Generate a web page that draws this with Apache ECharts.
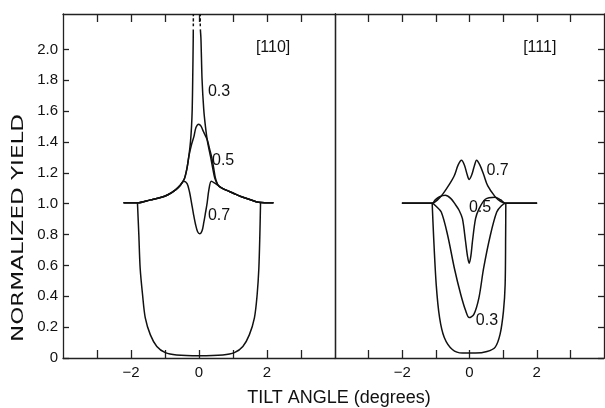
<!DOCTYPE html>
<html>
<head>
<meta charset="utf-8">
<title>Normalized yield vs tilt angle</title>
<script src="https://cdn.jsdelivr.net/npm/echarts@6/dist/echarts.min.js"></script>
<style>
  html, body { margin: 0; padding: 0; background: #fff; }
  #main { width: 605px; height: 408px; }
</style>
</head>
<body>
<div id="main"></div>
<script type="text/javascript">
// axis ticks / labels
var xTicks = [-3, -2, -1, 0, 1, 2, 3];
var xLabels = [-2, 0, 2];
var yTicks = [0, 0.2, 0.4, 0.6, 0.8, 1.0, 1.2, 1.4, 1.6, 1.8, 2.0];

// [110] panel: [tilt angle, yield]
var c110_03a = [[-2.22,1.006],[-1.81,1.006],[-1.43,1.025],[-1.13,1.04],[-0.90,1.06],[-0.69,1.09],[-0.55,1.12],
  [-0.43,1.162],[-0.35,1.234],[-0.30,1.305],[-0.25,1.403],[-0.22,1.50],[-0.20,1.61],[-0.185,1.805],[-0.17,2.065],[-0.168,2.13]];
var c110_03b = [[0.04,2.13],[0.058,2.065],[0.09,1.805],[0.14,1.61],[0.19,1.50],[0.25,1.403],[0.34,1.305],[0.40,1.234],
  [0.46,1.169],[0.52,1.135],[0.58,1.115],[0.65,1.105],[0.8,1.088],[1.01,1.068],[1.25,1.045],[1.51,1.026],[1.75,1.01],[2.19,1.006]];
var c110_03tipA = [[-0.167,2.15],[-0.166,2.23]];
var c110_03tipB = [[0.038,2.15],[0.036,2.23]];
var c110_05 = [[-2.22,1.006],[-1.81,1.006],[-1.43,1.025],[-1.13,1.04],[-0.90,1.06],[-0.69,1.09],[-0.55,1.12],
  [-0.43,1.162],[-0.35,1.234],[-0.30,1.305],[-0.22,1.383],[-0.15,1.435],[-0.09,1.494],[-0.01,1.516],[0.06,1.503],
  [0.13,1.468],[0.24,1.416],[0.31,1.357],[0.37,1.305],[0.43,1.234],[0.48,1.169],[0.53,1.135],[0.58,1.115],
  [0.65,1.105],[0.8,1.088],[1.01,1.068],[1.25,1.045],[1.51,1.026],[1.75,1.01],[2.19,1.006]];
var c110_07 = [[-2.22,1.006],[-1.81,1.006],[-1.43,1.025],[-1.13,1.04],[-0.90,1.06],[-0.69,1.09],[-0.55,1.12],
  [-0.45,1.145],[-0.35,1.13],[-0.28,1.078],[-0.22,1.006],[-0.16,0.93],[-0.10,0.864],[-0.04,0.818],[0.02,0.805],
  [0.09,0.825],[0.14,0.877],[0.19,0.94],[0.24,1.006],[0.29,1.09],[0.36,1.145],[0.45,1.135],[0.55,1.12],
  [0.65,1.105],[0.8,1.088],[1.01,1.068],[1.25,1.045],[1.51,1.026],[1.75,1.01],[2.19,1.006]];
var u110 = [[-1.81,1.006],[-1.77,0.80],[-1.73,0.58],[-1.66,0.41],[-1.58,0.26],[-1.43,0.15],[-1.24,0.075],[-0.99,0.035],
  [-0.66,0.02],[0.0,0.015],[0.70,0.02],[1.04,0.035],[1.29,0.075],[1.48,0.15],[1.63,0.26],[1.71,0.41],[1.76,0.58],
  [1.79,0.80],[1.81,1.006]];

// [111] panel
var c111_03 = [[-2.01,1.003],[-1.11,1.003],[-1.01,0.987],[-0.84,0.946],[-0.65,0.796],[-0.45,0.582],[-0.26,0.412],
  [-0.11,0.304],[-0.01,0.262],[0.13,0.283],[0.28,0.39],[0.42,0.582],[0.62,0.796],[0.81,0.946],[0.95,0.987],
  [1.08,1.003],[2.01,1.003]];
var c111_05 = [[-2.01,1.003],[-1.11,1.003],[-1.02,1.025],[-0.89,1.045],[-0.72,1.055],[-0.56,1.035],[-0.42,0.995],
  [-0.31,0.958],[-0.21,0.903],[-0.12,0.76],[-0.06,0.66],[-0.01,0.614],[0.04,0.66],[0.09,0.76],[0.18,0.903],
  [0.28,0.965],[0.47,1.029],[0.76,1.042],[0.92,1.026],[1.08,1.003],[2.01,1.003]];
var c111_07 = [[-2.01,1.003],[-1.11,1.003],[-0.95,1.025],[-0.79,1.064],[-0.60,1.125],[-0.45,1.183],[-0.34,1.25],
  [-0.24,1.282],[-0.15,1.25],[-0.07,1.189],[-0.01,1.157],[0.07,1.189],[0.15,1.25],[0.21,1.282],[0.31,1.25],
  [0.42,1.189],[0.54,1.117],[0.76,1.046],[0.92,1.015],[1.08,1.003],[2.01,1.003]];
var u111 = [[-1.11,1.003],[-1.07,0.80],[-0.99,0.476],[-0.89,0.262],[-0.75,0.133],[-0.51,0.055],[-0.21,0.032],
  [0.18,0.032],[0.52,0.042],[0.76,0.069],[0.91,0.155],[1.01,0.304],[1.06,0.476],[1.075,0.796],[1.08,1.003]];

// curve labels: [text, x, y]
var labels110 = [['[110]', 2.18, 2.01], ['0.3', 0.59, 1.73], ['0.5', 0.71, 1.277], ['0.7', 0.59, 0.92]];
var labels111 = [['[111]', 2.09, 2.01], ['0.7', 0.836, 1.218], ['0.5', 0.313, 0.972], ['0.3', 0.52, 0.24]];

var ink = '#111';
var frame = { color: '#222', width: 1.3 };
var fontTick = 'Liberation Sans';

function bottomX(i) {
  return {
    type: 'value', gridIndex: i, min: -4, max: 4, position: 'bottom',
    axisLine: { show: true, onZero: false, lineStyle: frame },
    axisTick: { show: true, inside: true, length: 8, customValues: xTicks, lineStyle: frame },
    axisLabel: {
      customValues: xLabels, margin: 7, fontSize: 15, color: ink, fontFamily: fontTick,
      formatter: function (v) { return v < 0 ? '\u2212' + Math.abs(v) : String(v); }
    },
    splitLine: { show: false }
  };
}
function topX(i) {
  return {
    type: 'value', gridIndex: i, min: -4, max: 4, position: 'top',
    axisLine: { show: true, onZero: false, lineStyle: frame },
    axisTick: { show: true, inside: true, length: 8, customValues: xTicks, lineStyle: frame },
    axisLabel: { show: false },
    splitLine: { show: false }
  };
}
function sideY(i, pos, ticks, labels) {
  return {
    type: 'value', gridIndex: i, min: 0, max: 2.23, position: pos,
    axisLine: { show: true, onZero: false, lineStyle: frame },
    axisTick: { show: ticks, inside: true, length: 6, customValues: yTicks, lineStyle: frame },
    axisLabel: {
      show: labels, customValues: yTicks, margin: 5, fontSize: 15, color: ink, fontFamily: fontTick,
      formatter: function (v) { return v === 0 ? '0' : v.toFixed(1); }
    },
    splitLine: { show: false }
  };
}

function curve(data, xi, yi, dashed) {
  return {
    type: 'line', xAxisIndex: xi, yAxisIndex: yi, data: data,
    showSymbol: false, symbol: 'none', smooth: 0.3,
    lineStyle: { color: ink, width: 1.5, type: dashed ? [3, 2] : 'solid' },
    clip: true, silent: true
  };
}
function labelSeries(list, xi, yi) {
  return {
    type: 'scatter', xAxisIndex: xi, yAxisIndex: yi, symbolSize: 0,
    itemStyle: { color: ink, opacity: 1 }, silent: true,
    label: {
      show: true, position: 'inside', formatter: '{b}', color: ink, opacity: 1,
      fontSize: 16, fontFamily: fontTick
    },
    data: list.map(function (d) { return { name: d[0], value: [d[1], d[2]] }; })
  };
}

var myChart = echarts.init(document.getElementById('main'), null, { renderer: 'canvas' });
var option = {
  backgroundColor: '#fff',
  animation: false,
  grid: [
    { left: 63, top: 14, width: 272, height: 344 },
    { left: 335, top: 14, width: 269, height: 344 }
  ],
  xAxis: [bottomX(0), topX(0), bottomX(1), topX(1)],
  yAxis: [sideY(0, 'left', true, true), sideY(0, 'right', false, false),
          sideY(1, 'left', false, false), sideY(1, 'right', true, false)],
  graphic: [
    { type: 'text', x: 339, y: 398, silent: true,
      style: { text: 'TILT ANGLE (degrees)', align: 'center', verticalAlign: 'middle',
               fill: ink, font: '18px "Liberation Sans"' } },
    { type: 'text', x: 19, y: 228, rotation: Math.PI / 2, scaleX: 1.44, silent: true,
      style: { text: 'NORMALIZED YIELD', align: 'center', verticalAlign: 'middle',
               fill: ink, font: '16px "DejaVu Sans"' } }
  ],
  series: [
    curve(c110_03a, 0, 0), curve(c110_03b, 0, 0),
    curve(c110_03tipA, 0, 0, true), curve(c110_03tipB, 0, 0, true),
    curve(c110_05, 0, 0), curve(c110_07, 0, 0), curve(u110, 0, 0),
    curve(c111_03, 2, 2), curve(c111_05, 2, 2), curve(c111_07, 2, 2), curve(u111, 2, 2),
    labelSeries(labels110, 0, 0), labelSeries(labels111, 2, 2)
  ]
};
myChart.setOption(option);
</script>
</body>
</html>
